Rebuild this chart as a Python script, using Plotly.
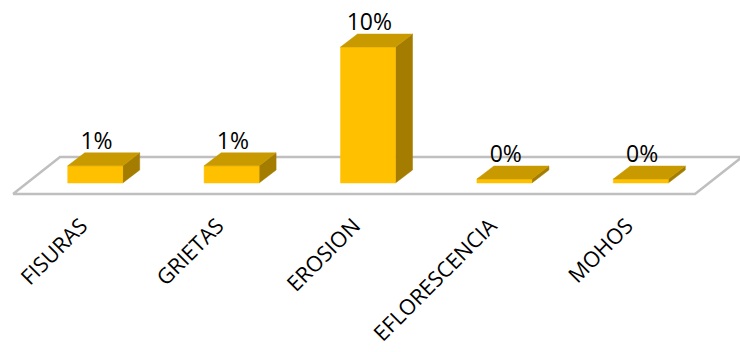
import plotly.graph_objects as go

# Data
categories = ["FISURAS", "GRIETAS", "EROSION", "EFLORESCENCIA", "MOHOS"]
values = [1, 1, 10, 0, 0]  # percent
labels = [f"{v}%" for v in values]

# Figure / axis geometry
W, H = 740, 352
PLOT_BOTTOM = 208          # px height of the plotting area
CAT_PX0, CAT_STEP = 95.2, 136.4
BASE_PX, PX_PER_PCT = 183, 13.2
SLAB = 0.3                 # minimum slab thickness below zero (pct)

def pct_at(px):
    return -SLAB + (BASE_PX - px) / PX_PER_PCT

x_range = [-CAT_PX0 / CAT_STEP, (W - CAT_PX0) / CAT_STEP]
y_range = [pct_at(PLOT_BOTTOM), pct_at(0)]

# 3D offsets (in axis units)
HALF_W = 27.5 / CAT_STEP
DX, DY = 17 / CAT_STEP, 13 / PX_PER_PCT
FLOOR_FRONT = -SLAB - 11 / PX_PER_PCT
FLOOR_DX, FLOOR_DY = 47 / CAT_STEP, 37 / PX_PER_PCT
FRONT_SHIFT = 14 / CAT_STEP

FRONT_C = "#FFC000"
TOP_C = "#C89A00"
SIDE_C = "#A37C00"

fig = go.Figure()

# Floor
n = len(categories)
fx0 = -0.5 - FRONT_SHIFT
fx1 = n - 0.5 - FRONT_SHIFT
fig.add_trace(go.Scatter(
    x=[fx0, fx1, fx1 + FLOOR_DX, fx0 + FLOOR_DX, fx0],
    y=[FLOOR_FRONT, FLOOR_FRONT, FLOOR_FRONT + FLOOR_DY, FLOOR_FRONT + FLOOR_DY, FLOOR_FRONT],
    mode="lines", fill="toself", fillcolor="white",
    line=dict(color="#BFBFBF", width=2.5), hoverinfo="skip", showlegend=False))

front_x, front_y, top_x, top_y, side_x, side_y = [], [], [], [], [], []
for i, v in enumerate(values):
    x0, x1 = i - HALF_W, i + HALF_W
    y0, y1 = -SLAB, v
    front_x += [x0, x1, x1, x0, x0, None]
    front_y += [y0, y0, y1, y1, y0, None]
    top_x += [x0, x1, x1 + DX, x0 + DX, x0, None]
    top_y += [y1, y1, y1 + DY, y1 + DY, y1, None]
    side_x += [x1, x1 + DX, x1 + DX, x1, x1, None]
    side_y += [y0, y0 + DY, y1 + DY, y1, y0, None]

for xs, ys, c in [(side_x, side_y, SIDE_C), (front_x, front_y, FRONT_C), (top_x, top_y, TOP_C)]:
    fig.add_trace(go.Scatter(x=xs, y=ys, mode="lines", fill="toself", fillcolor=c,
                             line=dict(color=c, width=0.5), hoverinfo="skip", showlegend=False))

# Value labels above each bar
fig.add_trace(go.Scatter(
    x=[i + 0.01 for i in range(n)], y=[v + DY - 0.15 for v in values],
    mode="text", text=labels, textposition="top center",
    textfont=dict(family="Open Sans", size=23, color="#000000"),
    hoverinfo="skip", showlegend=False))

fig.update_layout(
    width=W, height=H,
    margin=dict(l=0, r=0, t=0, b=H - PLOT_BOTTOM),
    paper_bgcolor="white", plot_bgcolor="white",
    xaxis=dict(range=x_range, tickvals=list(range(n)), ticktext=categories,
               tickangle=-45, ticklabelshift=-14,
               showgrid=False, zeroline=False, automargin=False,
               showline=False, ticks="", fixedrange=True,
               tickfont=dict(family="Open Sans", size=21.5, color="#000000")),
    yaxis=dict(range=y_range, visible=False, fixedrange=True, automargin=False),
)

fig.write_html("out.html")
